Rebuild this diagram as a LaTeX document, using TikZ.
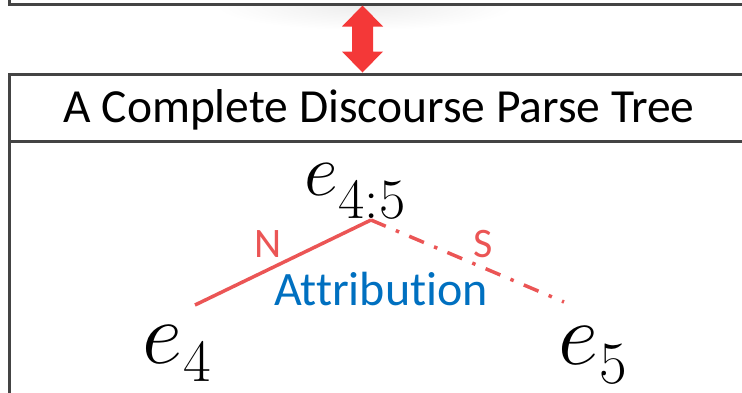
\RequirePackage{fix-cm}
\documentclass[tikz,border=0pt]{standalone}
\usepackage{fontspec}
\setmainfont{Carlito}[Ligatures=NoCommon]
\usetikzlibrary{calc}
\definecolor{boxgray}{RGB}{68,68,68}
\definecolor{linered}{RGB}{235,85,85}
\definecolor{arrowred}{RGB}{244,56,56}
\definecolor{attrblue}{RGB}{0,112,192}
\newcommand{\eleaf}[4]{{\fontsize{#1}{#1}\selectfont$e$}\kern1bp\raisebox{-#3}{\fontsize{#2}{#2}\selectfont$#4$}}
\tikzset{
  boxline/.style={draw=boxgray, line width=3bp},
  treeline/.style={draw=linered, line width=3.5bp},
  nslabel/.style={text=linered, font=\fontsize{42bp}{42bp}\selectfont, anchor=base, inner sep=0},
  enode/.style={anchor=base west, inner sep=0},
}
\begin{document}
\begin{tikzpicture}[x=1bp,y=-1bp]
\path[use as bounding box, clip] (0,0) rectangle (742,392);
% faint shadow below top box
\begin{scope}
  \clip (8,6) rectangle (742,40);
  \shade[inner color=black!7, outer color=white] (365,6) ellipse (150 and 24);
\end{scope}
% boxes
\node[boxline, rectangle, minimum width=760bp, minimum height=100bp, inner sep=0, anchor=south west] (topbox) at (8,5.5) {};
\node[boxline, rectangle, minimum width=742bp, minimum height=67.5bp, inner sep=0, anchor=north west] (titlebox) at (8.3,72.5) {};
\node[boxline, rectangle, minimum width=742bp, minimum height=300bp, inner sep=0, anchor=north west] (treebox) at (8.3,140) {};
\node[anchor=base, inner sep=0, font=\fontsize{47.5bp}{48bp}\selectfont] (title) at (379,122) {A Complete Discourse Parse Tree};
% double arrow
\coordinate (at) at (topbox.south -| 362.5,0);
\coordinate (ab) at (titlebox.north -| 362.5,0);
\fill[arrowred] (at) -- ($(at)+(20.5,21)$) -- ($(at)+(10.5,21)$) -- ($(ab)+(10.5,-21)$) -- ($(ab)+(20.5,-21)$) -- (ab)
  -- ($(ab)+(-20.5,-21)$) -- ($(ab)+(-10.5,-21)$) -- ($(at)+(-10.5,21)$) -- ($(at)+(-20.5,21)$) -- cycle;
% tree
\node[enode] (e45) at (304,195) {\eleaf{74bp}{57bp}{23bp}{4{:}5}};
\node[enode] (e4) at (142,363) {\eleaf{88bp}{60bp}{18bp}{4}};
\node[enode] (e5) at (558,364) {\eleaf{88bp}{60bp}{19bp}{5}};
\coordinate (apex) at (371,220);
\coordinate (lend) at (195,305);
\coordinate (rend) at (564,302);
\draw[treeline] (lend) -- (apex);
\draw[treeline, dash pattern=on 16bp off 11bp on 3.5bp off 11bp] (apex) -- (rend);
\node[nslabel] (N) at (268,257) {N};
\node[nslabel] (S) at (483,257) {S};
\node[anchor=base, inner sep=0, text=attrblue, font=\fontsize{48bp}{48bp}\selectfont] (attr) at (381,305) {Attribution};
\end{tikzpicture}
\end{document}
